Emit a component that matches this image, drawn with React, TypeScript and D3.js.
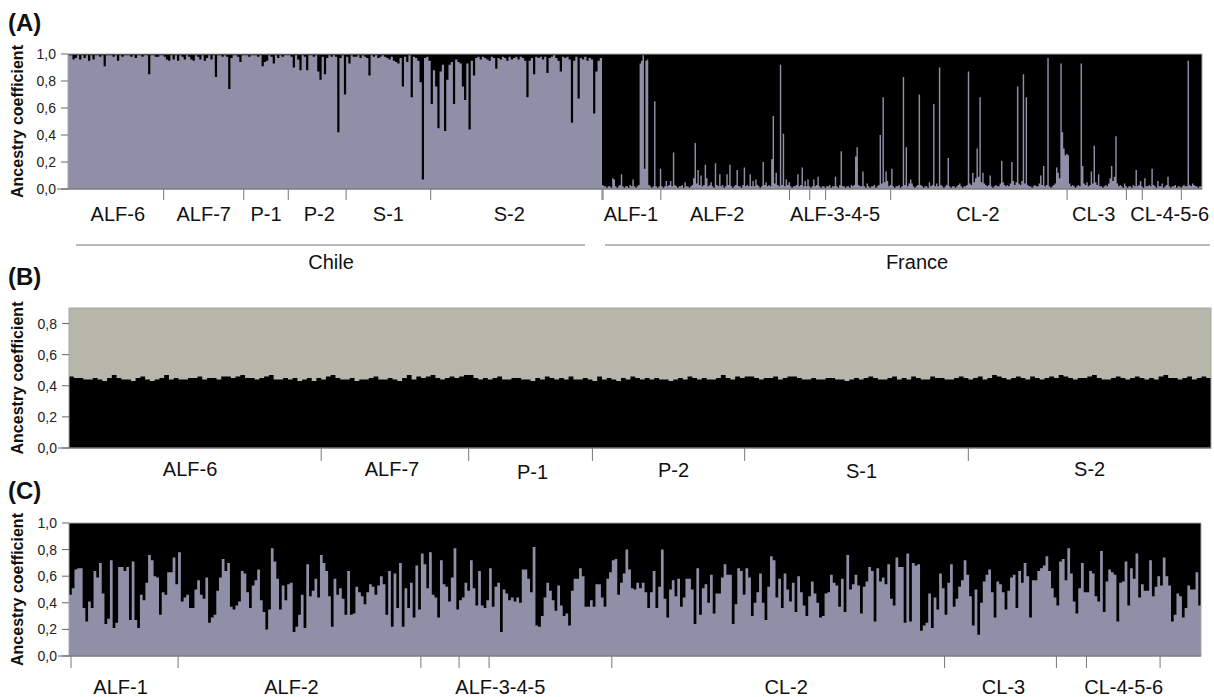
import React from 'react';
import * as d3 from 'd3';

const W = 1214;
const H = 697;
const FONT = '"Liberation Sans", Arial, sans-serif';
const PURPLE = '#8f8fa8';
const GREY = '#b6b6aa';
const INK = '#111';

// ---- data (ancestry coefficient, in %) ----
// (A) cluster 1 proportion, Chilean samples
const chileA = [
  99,99,96,97,99,96,99,97,99,95,99,96,99,99,98,99,91,99,99,99,
  98,99,95,99,98,99,99,99,98,99,97,99,99,98,99,99,85,99,99,98,
  98,99,99,98,96,95,99,96,99,95,99,98,96,99,98,96,95,99,98,96,
  99,95,97,99,96,99,83,99,99,98,99,98,74,97,99,99,98,94,99,99,
  99,98,99,99,99,98,99,91,94,95,99,98,93,99,97,99,98,99,99,99,
  98,90,99,96,88,99,98,88,99,99,98,99,87,81,98,85,97,99,98,99,
  98,42,97,99,70,98,93,99,98,98,99,97,99,98,97,84,99,98,99,97,
  98,99,98,97,96,98,95,94,93,97,76,98,94,99,68,98,97,95,79,7,
  97,98,95,63,88,76,45,87,92,43,81,92,94,63,96,94,93,76,66,93,
  44,95,84,97,98,96,98,97,96,95,98,97,89,97,96,98,97,95,98,96,
  97,98,96,98,97,95,68,95,97,85,98,97,98,96,98,86,97,98,99,97,
  95,87,98,97,98,96,49,95,98,67,97,96,98,95,97,96,56,87,95,97,
];

// (A) cluster 1 proportion, French samples
const franceA = [
  3,2,2,1,2,2,1,8,7,2,1,2,3,11,2,1,2,2,1,3,
  2,7,2,1,2,3,93,95,99,15,95,96,3,2,1,2,65,2,1,2,
  15,2,1,2,6,2,3,6,2,27,3,2,1,2,2,3,1,5,2,2,
  1,2,3,8,34,4,14,3,10,2,3,18,8,2,3,5,2,1,19,3,
  2,11,2,3,1,2,11,3,18,2,1,2,3,14,2,2,1,3,16,2,
  3,2,11,2,6,2,7,3,2,1,2,20,3,5,2,3,2,22,54,4,
  12,3,2,92,3,41,2,7,3,5,2,1,2,2,3,11,2,3,16,2,
  6,2,7,2,1,2,7,2,3,9,2,1,2,2,1,2,2,3,1,2,
  2,9,2,1,3,28,2,2,1,2,2,1,3,2,3,24,31,3,2,2,
  13,2,1,4,2,1,2,2,3,1,2,3,40,4,68,5,13,6,2,3,
  15,2,1,2,2,3,1,2,83,3,31,2,4,7,4,2,1,2,3,70,
  3,2,1,2,2,1,5,2,3,63,2,4,2,90,3,2,1,2,3,23,
  2,1,2,2,1,2,3,4,2,1,2,2,3,87,4,3,12,5,8,30,
  9,68,5,12,4,3,2,3,10,2,1,2,3,2,2,4,21,5,3,2,
  3,2,4,20,6,3,5,76,4,3,6,85,4,68,3,2,2,1,2,3,
  2,2,4,10,3,17,2,3,97,2,1,2,3,4,16,12,8,93,42,30,
  25,26,25,4,2,3,2,1,2,3,2,93,17,4,3,5,2,3,13,4,
  32,5,3,11,2,2,1,2,3,2,4,8,17,6,9,39,4,2,3,2,
  1,4,2,1,2,2,1,3,2,14,2,3,6,2,1,8,2,2,3,2,
  15,3,2,1,6,2,2,4,1,2,3,9,2,1,2,2,3,1,2,2,
  1,2,3,2,2,95,3,2,4,3,2,2,1,2,2,
];

// (B) Chilean samples, black cluster
const chileB = [
  46,45,45,44,44,45,44,43,45,47,45,44,44,43,45,46,44,43,44,45,
  47,44,45,44,44,45,45,46,44,45,45,44,46,46,45,46,47,45,45,44,
  45,46,47,44,44,45,44,45,43,44,45,43,45,44,46,47,45,44,44,45,
  43,44,44,45,46,44,44,45,44,43,45,47,44,46,45,46,47,45,44,45,
  46,45,46,47,47,45,44,45,44,45,46,44,44,45,45,44,44,43,45,44,
  46,45,44,45,44,46,44,44,45,44,43,46,44,45,44,43,45,44,46,45,
  44,45,44,45,44,44,43,44,45,44,46,45,44,45,44,44,45,47,45,44,
  46,45,46,46,45,44,45,45,46,44,45,46,46,45,44,44,45,44,44,45,
  45,44,44,43,44,45,44,45,46,45,44,44,45,46,44,45,44,46,45,44,
  44,46,45,45,44,44,45,46,45,44,45,46,44,45,47,46,45,44,45,46,
  45,44,46,45,44,45,46,45,47,46,45,44,45,45,46,47,45,44,44,45,
  46,45,44,45,46,45,44,45,44,46,47,45,45,44,45,46,44,45,46,45,
];

// (C) French samples, purple cluster
const franceC = [
  // ALF-1
  46,51,65,66,66,36,26,41,36,64,59,70,47,24,28,72,21,25,67,67,
  64,67,27,71,27,21,46,42,55,76,72,60,59,31,48,46,63,63,74,54,
  // ALF-2
  78,41,44,46,36,36,50,57,46,43,59,25,29,31,49,59,73,64,70,37,
  35,38,41,64,62,48,36,53,57,65,42,33,20,35,81,71,58,35,53,42,
  54,55,18,22,31,46,21,69,45,49,58,44,76,70,64,45,22,58,46,51,
  43,31,64,31,32,52,48,45,39,48,54,52,46,53,60,54,31,64,22,62,
  36,70,22,51,36,55,29,68,35,
  // ALF-3
  77,69,51,78,46,44,29,72,54,52,41,59,81,35,
  // ALF-4
  42,44,55,49,72,51,38,64,38,36,42,
  // ALF-5
  66,37,52,55,18,50,47,42,44,41,44,40,65,65,58,48,82,23,22,30,
  44,55,49,42,34,53,38,30,32,23,49,58,58,66,60,37,37,42,37,54,
  54,44,37,58,63,
  // CL-2
  72,73,46,55,62,80,65,51,50,55,51,55,48,36,48,64,36,52,80,43,
  29,50,57,45,58,37,44,58,58,50,24,66,31,51,54,40,61,32,47,47,
  59,69,61,61,24,39,66,64,46,66,59,30,40,48,62,40,27,52,75,72,
  44,58,36,62,50,41,55,33,60,48,38,30,45,56,47,40,29,30,47,48,
  61,55,53,37,58,33,76,50,54,61,53,32,52,56,67,64,26,66,56,59,
  54,69,43,38,74,67,67,25,77,26,70,68,69,19,23,25,47,21,44,35,
  62,51,
  // CL-3
  31,55,69,37,43,52,57,72,61,45,23,50,16,40,56,61,65,48,29,56,
  54,48,35,49,59,61,36,64,55,70,60,29,57,57,64,66,68,75,64,51,44,
  // CL-4
  38,71,73,57,81,62,41,32,51,70,48,
  // CL-5
  48,64,62,45,41,79,33,56,65,63,61,26,55,56,71,38,66,58,77,44,
  54,49,49,72,45,52,60,
  // CL-6
  53,74,60,53,26,31,47,45,29,36,53,50,50,63,38,
];

const chileGroups = ['ALF-6', 'ALF-7', 'P-1', 'P-2', 'S-1', 'S-2'];
const chileSizesA = [43, 36, 20, 26, 38, 77];
const chileSizesB = [53, 31, 26, 32, 47, 51];
const franceSizes = [40, 89, 14, 11, 45, 122, 41, 11, 27, 15]; // ALF-1..5, CL-2..6
const franceLabels = ['ALF-1', 'ALF-2', 'ALF-3-4-5', 'CL-2', 'CL-3', 'CL-4-5-6'];
const franceLabelSpans = [[0, 1], [1, 2], [2, 5], [5, 6], [6, 7], [7, 10]];
const ticks1 = [0, 0.2, 0.4, 0.6, 0.8, 1.0];
const ticks09 = [0, 0.2, 0.4, 0.6, 0.8];

// small hand nudges for label placement [dx, dy]
const nudgeChileA = [[2, 0], [0, 0], [0, 0], [2, 0], [0, 0], [-7, 0]];
const nudgeFranceA = [[0, 0], [-7, 0], [-4, 0], [0, 0], [-2, 0], [6, 0]];
const nudgeB = [[-5, 0], [-3, 0], [2, 3], [5, 1], [5, 2], [0, 0]];
const nudgeC = [[-3, 0], [-8, 0], [-16, 0], [8, 0], [3, 0], [-5, 0]];

const fmt = (v: number) => v.toFixed(1).replace('.', ',');
const cumul = (s: number[]) => s.reduce((acc, n) => [...acc, acc[acc.length - 1] + n], [0]);

// stacked step bars: low colour from 0 to value, high colour from value to top
function Stack({ values, x0, x1, y, top, low, high }: any) {
  const x = d3.scaleLinear().domain([0, values.length]).range([x0, x1]);
  const pts = [...values, values[values.length - 1]];
  const lowArea = d3.area<number>().x((_, i) => x(i)).y0(y(0)).y1(d => y(d / 100)).curve(d3.curveStepAfter);
  const highArea = d3.area<number>().x((_, i) => x(i)).y0(d => y(d / 100)).y1(y(top)).curve(d3.curveStepAfter);
  return (
    <g>
      <rect x={x0} y={y(top)} width={x1 - x0} height={y(0) - y(top)} fill={high} />
      <path d={highArea(pts) || ''} fill={high} />
      <path d={lowArea(pts) || ''} fill={low} />
    </g>
  );
}

function YAxis({ x0, x1, y, ticks, top, title }: any) {
  const mid = (y(0) + y(top)) / 2;
  return (
    <g fontFamily={FONT}>
      <rect x={x0} y={y(top)} width={x1 - x0} height={y(0) - y(top)} fill="none" stroke="#a8a8a8" strokeWidth={1} />
      <line x1={x0 - 11} x2={x1} y1={y(0)} y2={y(0)} stroke="#666" strokeWidth={1.2} />
      {ticks.map((t: number) => (
        <g key={t}>
          <line x1={x0 - 7} x2={x0} y1={y(t)} y2={y(t)} stroke="#666" />
          <text x={x0 - 12} y={y(t)} dy="0.36em" textAnchor="end" fontSize={14} fill="#222">{fmt(t)}</text>
        </g>
      ))}
      <text transform={`translate(${title},${mid}) rotate(-90)`} textAnchor="middle" dy="0.35em"
        fontSize={16} fontWeight="bold" fill={INK}>Ancestry coefficient</text>
    </g>
  );
}

function GroupTicks({ xs, yb, len }: any) {
  return (
    <g>
      {xs.map((x: number, i: number) => (
        <line key={i} x1={x} x2={x} y1={yb} y2={yb + len} stroke="#777" strokeWidth={1} />
      ))}
    </g>
  );
}

function Labels({ items, y }: any) {
  return (
    <g fontFamily={FONT} fontSize={20} fill={INK} textAnchor="middle">
      {items.map((d: any) => (
        <text key={d.text} x={d.x + d.n[0]} y={y + d.n[1]}>{d.text}</text>
      ))}
    </g>
  );
}

export default function App() {
  // ---- panel A ----
  const yA = d3.scaleLinear().domain([0, 1]).range([189, 54]);
  const aX0 = 68, aMid = 602, aX1 = 1202;
  const xChileA = d3.scaleLinear().domain([0, chileA.length]).range([aX0, aMid]);
  const xFranceA = d3.scaleLinear().domain([0, franceA.length]).range([aMid, aX1]);
  const cA = cumul(chileSizesA);
  const cF = cumul(franceSizes);
  const chileLabA = chileGroups.map((t, i) => ({
    text: t, n: nudgeChileA[i], x: (xChileA(cA[i]) + xChileA(cA[i + 1])) / 2,
  }));
  const franceLabA = franceLabels.map((t, i) => ({
    text: t, n: nudgeFranceA[i],
    x: (xFranceA(cF[franceLabelSpans[i][0]]) + xFranceA(cF[franceLabelSpans[i][1]])) / 2,
  }));
  const ticksA = [...cA.slice(1).map(c => xChileA(c)), ...cF.slice(0, -1).map(c => xFranceA(c) + 1)];

  // ---- panel B ----
  const yB = d3.scaleLinear().domain([0, 0.9]).range([448, 308]);
  const bX0 = 69, bX1 = 1211;
  const xB = d3.scaleLinear().domain([0, chileB.length]).range([bX0, bX1]);
  const cB = cumul(chileSizesB);
  const labB = chileGroups.map((t, i) => ({ text: t, n: nudgeB[i], x: (xB(cB[i]) + xB(cB[i + 1])) / 2 }));
  const ticksB = cB.slice(1, -1).map(c => xB(c));

  // ---- panel C ----
  const yC = d3.scaleLinear().domain([0, 1]).range([656, 523]);
  const cX0 = 69, cX1 = 1201;
  const xC = d3.scaleLinear().domain([0, franceC.length]).range([cX0, cX1]);
  const labC = franceLabels.map((t, i) => ({
    text: t, n: nudgeC[i],
    x: (xC(cF[franceLabelSpans[i][0]]) + xC(cF[franceLabelSpans[i][1]])) / 2,
  }));
  const ticksC = cF.slice(0, -1).map((c, i) => xC(c) + (i === 0 ? 2 : 0));

  return (
    <svg width={W} height={H} style={{ position: 'absolute', left: 0, top: 0, background: '#fff' }}>
      {/* (A) */}
      <text x={8} y={31} fontFamily={FONT} fontSize={24} fontWeight="bold" fill={INK}>(A)</text>
      <Stack values={chileA} x0={aX0} x1={aMid} y={yA} top={1} low={PURPLE} high="#000" />
      <Stack values={franceA} x0={aMid} x1={aX1} y={yA} top={1} low={PURPLE} high="#000" />
      <YAxis x0={aX0} x1={aX1} y={yA} ticks={ticks1} top={1} title={17} />
      <GroupTicks xs={ticksA} yb={189} len={11} />
      <Labels items={[...chileLabA, ...franceLabA]} y={221} />
      <line x1={76} x2={585} y1={245} y2={245} stroke="#777" />
      <line x1={605} x2={1210} y1={245} y2={245} stroke="#777" />
      <text x={331} y={269} fontFamily={FONT} fontSize={20} fill={INK} textAnchor="middle">Chile</text>
      <text x={917} y={269} fontFamily={FONT} fontSize={20} fill={INK} textAnchor="middle">France</text>

      {/* (B) */}
      <text x={8} y={285} fontFamily={FONT} fontSize={24} fontWeight="bold" fill={INK}>(B)</text>
      <Stack values={chileB} x0={bX0} x1={bX1} y={yB} top={0.9} low="#000" high={GREY} />
      <YAxis x0={bX0} x1={bX1} y={yB} ticks={ticks09} top={0.9} title={17} />
      <GroupTicks xs={ticksB} yb={448} len={13} />
      <Labels items={labB} y={476} />

      {/* (C) */}
      <text x={8} y={499} fontFamily={FONT} fontSize={24} fontWeight="bold" fill={INK}>(C)</text>
      <Stack values={franceC} x0={cX0} x1={cX1} y={yC} top={1} low={PURPLE} high="#000" />
      <YAxis x0={cX0} x1={cX1} y={yC} ticks={ticks1} top={1} title={17} />
      <GroupTicks xs={ticksC} yb={656} len={12} />
      <Labels items={labC} y={694} />
    </svg>
  );
}
